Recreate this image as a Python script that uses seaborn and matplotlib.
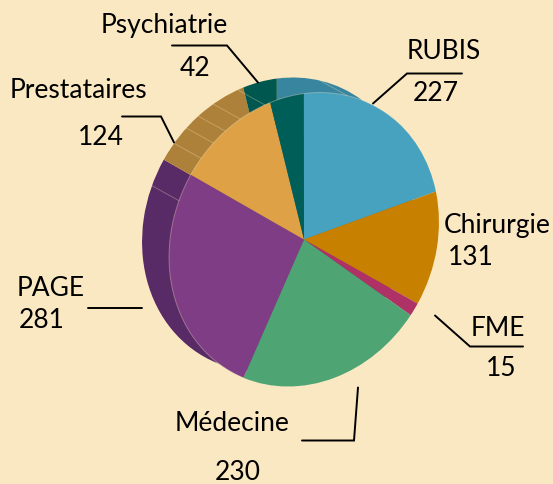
import numpy as np
import matplotlib
matplotlib.use("Agg")
import matplotlib.pyplot as plt
from matplotlib.transforms import Affine2D
import seaborn as sns

# Data, clockwise
services = ["RUBIS", "Chirurgie", "FME", "Médecine", "PAGE", "Prestataires", "Psychiatrie"]
counts = [227, 131, 15, 230, 281, 124, 42]
# Ribs on the side band (clock angle on the top face, degrees)
rib_angles = [11.9, -23.7, -35, -42.5, -49, -56.5, -74.7]

top_colors = ["#46A2BF", "#C88000", "#AF3266", "#4FA474", "#7F3D85", "#DEA145", "#005E58"]
back_colors = ["#38859F", "#A06600", "#8A2850", "#3E845C", "#582A66", "#AD8139", "#00574F"]
BG = "#FAE8C3"
START = 96.9

sns.set_theme(style="white", rc={"figure.facecolor": BG, "axes.facecolor": BG})
plt.rcParams["font.family"] = ["Lato", "DejaVu Sans"]

fig = plt.figure(figsize=(5.53, 4.85), dpi=100)
ax = fig.add_axes([0, 0, 1, 1])

top_tf = Affine2D.from_values(134, 0, 16, -147, 304, 240.5)
back_tf = Affine2D.from_values(134, 0, 16, -147, 277, 225.5)

back_w, _ = ax.pie(counts, colors=sns.color_palette(back_colors), startangle=START,
                   counterclock=False, radius=1, wedgeprops={"linewidth": 0})
for w in back_w:
    w.set_transform(back_tf + ax.transData)

top_w, _ = ax.pie(counts, colors=sns.color_palette(top_colors), startangle=START,
                  counterclock=False, radius=1, wedgeprops={"linewidth": 0})
for w in top_w:
    w.set_transform(top_tf + ax.transData)

ax.set_aspect("auto")
ax.set_xlim(0, 553)
ax.set_ylim(485, 0)
ax.axis("off")

# Ribs between top face and rear face
for a in rib_angles:
    r = np.radians(a)
    u, v = np.sin(r), np.cos(r)
    ax.plot([304 + 134 * u + 16 * v, 277 + 134 * u + 16 * v],
            [240.5 - 147 * v, 225.5 - 147 * v],
            color="#FAE8C3", alpha=0.3, lw=0.7, zorder=3)

# Pale rim of the top face over the side band
rim = np.radians(np.linspace(-160, 35, 200))
ax.plot(304 + 134 * np.sin(rim) + 16 * np.cos(rim), 240.5 - 147 * np.cos(rim),
        color="#FAE8C3", alpha=0.35, lw=0.7, zorder=3)

# Leader lines
leaders = [
    ([373, 407, 462], [104.5, 74.5, 74.5]),
    ([435, 470, 523], [316.5, 347.5, 347.5]),
    ([358, 354, 302], [388.5, 441.5, 441.5]),
    ([88, 142], [308.5, 308.5]),
    ([122, 161, 174], [117.5, 117.5, 143.5]),
    ([172, 227, 258], [46.5, 46.5, 83.5]),
]
for xs, ys in leaders:
    ax.plot(xs, ys, color="black", lw=1.4, solid_joinstyle="miter", zorder=4)

# Labels: (name position) and (count position)
name_pos = [(444, 51.5), (497, 225.5), (498, 329), (232, 424), (51, 289), (78, 90.5), (164, 25.5)]
value_pos = [(436, 93.5), (471, 257.5), (501, 369), (238, 473), (42, 321), (101, 138), (195, 69)]
for name, n, (nx, ny), (vx, vy) in zip(services, counts, name_pos, value_pos):
    ax.text(nx, ny, name, ha="center", va="center", fontsize=19, color="black", zorder=5)
    ax.text(vx, vy, str(n), ha="center", va="center", fontsize=19, color="black", zorder=5)

fig.savefig("out.png", dpi=100, facecolor=BG)
